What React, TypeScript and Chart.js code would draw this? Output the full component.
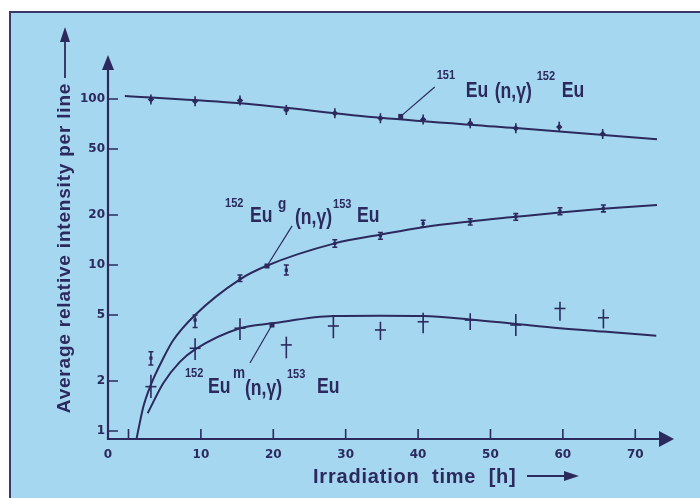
import { useEffect, useRef } from 'react';
import { Chart, registerables } from 'chart.js';

Chart.register(...registerables);

const NAVY = '#2c2a5c';
const BG = '#a6d7f1';

// axis ticks
const xTickValues = [0, 10, 20, 30, 40, 50, 60, 70];
const yTickValues = [1, 2, 5, 10, 20, 50, 100];

// measured points: 151Eu(n,γ)152Eu
const eu151Times = [3.1, 9.2, 15.4, 21.8, 28.5, 34.8, 40.7, 47.2, 53.5, 59.5, 65.5];
const eu151Values = [99.3, 96.9, 97.9, 85.9, 82.0, 76.5, 75.3, 71.4, 66.6, 67.8, 61.5];
const eu151Low = [92.6, 90.4, 91.3, 80.1, 76.5, 71.4, 70.2, 66.6, 62.1, 63.5, 57.4];
const eu151High = [106.5, 103.9, 105.0, 92.1, 87.9, 82.0, 80.7, 76.5, 71.4, 73.0, 65.9];

// measured points: 152Eu^g(n,γ)153Eu
const eu152gTimes = [3.1, 9.2, 15.4, 21.8, 28.5, 34.8, 40.7, 47.2, 53.5, 59.6, 65.6];
const eu152gValues = [2.75, 4.66, 8.3, 9.3, 13.5, 15.0, 17.8, 18.2, 19.5, 21.1, 21.9];
const eu152gLow = [2.5, 4.2, 7.95, 8.7, 12.8, 14.3, 17.0, 17.4, 18.6, 20.1, 20.9];
const eu152gHigh = [3.0, 5.0, 8.7, 10.0, 14.2, 15.7, 18.6, 19.0, 20.4, 22.1, 23.0];

// measured points: 152Eu^m(n,γ)153Eu
const eu152mTimes = [3.1, 9.2, 15.4, 21.8, 28.3, 34.8, 40.7, 47.2, 53.5, 59.6, 65.6];
const eu152mValues = [1.85, 3.15, 4.16, 3.3, 4.29, 4.06, 4.55, 4.66, 4.35, 5.47, 4.81];
const eu152mLow = [1.58, 2.68, 3.53, 2.74, 3.62, 3.53, 3.88, 4.06, 3.73, 4.62, 4.15];
const eu152mHigh = [2.18, 3.62, 4.77, 3.7, 4.88, 4.55, 5.16, 5.12, 5.07, 6.01, 5.41];

// fitted curves
const fit151Times = [-0.5, 15.4, 34.8, 53.5, 73.0];
const fit151Values = [104.2, 94.2, 77.0, 66.8, 57.2];
const fit152gTimes = [1.13, 2.05, 3.07, 4.8, 6.2, 9.2, 15.4, 19.1, 28.5, 34.7, 40.7, 47.2, 53.5, 59.6, 65.5, 73.0];
const fit152gValues = [0.907, 1.4, 1.89, 2.74, 3.53, 5.0, 8.2, 9.9, 13.5, 15.2, 16.9, 18.3, 19.5, 20.7, 21.8, 23.0];
const fit152mTimes = [2.65, 4.8, 7.1, 9.2, 15.4, 19.8, 28.3, 34.8, 40.7, 47.2, 53.6, 59.6, 65.6, 72.9];
const fit152mValues = [1.28, 1.94, 2.61, 3.1, 4.16, 4.45, 4.93, 4.95, 4.93, 4.7, 4.41, 4.16, 3.97, 3.75];

// axis range
const X_MIN = -2.83;
const X_MAX = 75.35;
const Y_MIN = 0.895;
const Y_MAX = 184;

const pts = (xs: number[], ys: number[]) => xs.map((x, i) => ({ x, y: ys[i] }));

type Piece = { text: string; dx: number; dy: number; size: number };

const labelA: Piece[] = [
  { text: '151', dx: 0, dy: -18, size: 13 },
  { text: 'Eu', dx: 29, dy: 0, size: 22 },
  { text: '(n,γ)', dx: 58, dy: 1, size: 22 },
  { text: '152', dx: 100, dy: -17, size: 13 },
  { text: 'Eu', dx: 125, dy: 0, size: 22 },
];
const labelB: Piece[] = [
  { text: '152', dx: 0, dy: -15, size: 13 },
  { text: 'Eu', dx: 25, dy: 0, size: 22 },
  { text: 'g', dx: 53, dy: -13, size: 17 },
  { text: '(n,γ)', dx: 70, dy: 2, size: 22 },
  { text: '153', dx: 108, dy: -14, size: 13 },
  { text: 'Eu', dx: 132, dy: 0, size: 22 },
];
const labelC: Piece[] = [
  { text: '152', dx: 0, dy: -16, size: 13 },
  { text: 'Eu', dx: 23, dy: 0, size: 22 },
  { text: 'm', dx: 48, dy: -15, size: 17 },
  { text: '(n,γ)', dx: 60, dy: 2, size: 22 },
  { text: '153', dx: 102, dy: -15, size: 13 },
  { text: 'Eu', dx: 132, dy: 0, size: 22 },
];

// annotations in data coordinates: text anchor, leader start, leader end
const annotations = [
  { pieces: labelA, anchor: [42.57, 103.2], from: [42.3, 118], to: [37.6, 78.5] },
  { pieces: labelB, anchor: [13.33, 18.16], from: [22.6, 17.2], to: [19.13, 9.86] },
  { pieces: labelC, anchor: [7.8, 1.694], from: [16.78, 2.57], to: [19.82, 4.35] },
];

const FONT = '"Liberation Sans", Arial, sans-serif';

function drawPieces(ctx: CanvasRenderingContext2D, x0: number, y0: number, pieces: Piece[]) {
  for (const p of pieces) {
    ctx.save();
    ctx.translate(x0 + p.dx, y0 + p.dy);
    ctx.scale(p.size >= 15 ? 0.8 : 0.85, 1);
    ctx.font = `bold ${p.size}px ${FONT}`;
    ctx.fillStyle = NAVY;
    ctx.textAlign = 'left';
    ctx.textBaseline = 'alphabetic';
    ctx.fillText(p.text, 0, 0);
    ctx.restore();
  }
}

const decorPlugin = {
  id: 'decor',
  beforeDraw(chart: any) {
    const ctx: CanvasRenderingContext2D = chart.ctx;
    const W = chart.width;
    const H = chart.height;
    ctx.save();
    ctx.fillStyle = '#ffffff';
    ctx.fillRect(0, 0, W, H);
    ctx.fillStyle = BG;
    ctx.fillRect(10, 12, W - 10, H - 12);
    ctx.strokeStyle = '#3a3868';
    ctx.lineWidth = 2;
    ctx.beginPath();
    ctx.moveTo(10, H);
    ctx.lineTo(10, 12);
    ctx.lineTo(W, 12);
    ctx.stroke();
    ctx.restore();
  },
  afterDatasetsDraw(chart: any) {
    const ctx: CanvasRenderingContext2D = chart.ctx;
    const ys = chart.scales.y;
    ctx.save();
    ctx.strokeStyle = NAVY;
    ctx.lineWidth = 1.6;
    chart.data.datasets.forEach((ds: any, i: number) => {
      if (!ds.errLo) return;
      const meta = chart.getDatasetMeta(i);
      meta.data.forEach((pt: any, j: number) => {
        const x = pt.x;
        const yLo = ys.getPixelForValue(ds.errLo[j]);
        const yHi = ys.getPixelForValue(ds.errHi[j]);
        ctx.beginPath();
        ctx.moveTo(x, yLo);
        ctx.lineTo(x, yHi);
        if (ds.caps) {
          ctx.moveTo(x - ds.caps, yLo);
          ctx.lineTo(x + ds.caps, yLo);
          ctx.moveTo(x - ds.caps, yHi);
          ctx.lineTo(x + ds.caps, yHi);
        }
        ctx.stroke();
      });
    });
    ctx.restore();
  },
  afterDraw(chart: any) {
    const ctx: CanvasRenderingContext2D = chart.ctx;
    const xs = chart.scales.x;
    const ys = chart.scales.y;
    const { left, right, top, bottom } = chart.chartArea;
    const px = (v: number) => xs.getPixelForValue(v);
    const py = (v: number) => ys.getPixelForValue(v);
    ctx.save();
    ctx.strokeStyle = NAVY;
    ctx.fillStyle = NAVY;
    // axes
    ctx.lineWidth = 2.2;
    ctx.beginPath();
    ctx.moveTo(left, top + 10);
    ctx.lineTo(left, bottom);
    ctx.lineTo(right - 10, bottom);
    ctx.stroke();
    // arrowheads
    ctx.beginPath();
    ctx.moveTo(left, top);
    ctx.lineTo(left - 6, top + 15);
    ctx.lineTo(left + 6, top + 15);
    ctx.closePath();
    ctx.fill();
    ctx.beginPath();
    ctx.moveTo(right, bottom);
    ctx.lineTo(right - 15, bottom - 8);
    ctx.lineTo(right - 15, bottom + 8);
    ctx.closePath();
    ctx.fill();
    // inner ticks
    ctx.lineWidth = 1.6;
    ctx.beginPath();
    for (const v of xTickValues) {
      const x = px(v);
      ctx.moveTo(x, bottom);
      ctx.lineTo(x, bottom - 10);
    }
    for (const v of yTickValues) {
      const y = py(v);
      ctx.moveTo(left, y);
      ctx.lineTo(left + 10, y);
    }
    ctx.stroke();

    // annotations
    for (const a of annotations) {
      ctx.lineWidth = 1.2;
      ctx.beginPath();
      ctx.moveTo(px(a.from[0]), py(a.from[1]));
      ctx.lineTo(px(a.to[0]), py(a.to[1]));
      ctx.stroke();
      ctx.fillRect(px(a.to[0]) - 2.5, py(a.to[1]) - 2.5, 5, 5);
      drawPieces(ctx, px(a.anchor[0]), py(a.anchor[1]), a.pieces);
    }

    // y title
    const tcx = 65;
    const tcy = 248;
    ctx.save();
    ctx.translate(tcx, tcy);
    ctx.rotate(-Math.PI / 2);
    ctx.font = `bold 19px ${FONT}`;
    (ctx as any).letterSpacing = '0.8px';
    ctx.textAlign = 'center';
    ctx.textBaseline = 'middle';
    ctx.fillText('Average relative intensity per line', 0, 0);
    ctx.restore();
    ctx.lineWidth = 1.8;
    ctx.beginPath();
    ctx.moveTo(tcx, 78);
    ctx.lineTo(tcx, 40);
    ctx.stroke();
    ctx.beginPath();
    ctx.moveTo(tcx, 27);
    ctx.lineTo(tcx - 5, 42);
    ctx.lineTo(tcx + 5, 42);
    ctx.closePath();
    ctx.fill();

    // x title
    ctx.save();
    ctx.font = `bold 20px ${FONT}`;
    (ctx as any).letterSpacing = '0.8px';
    (ctx as any).wordSpacing = '6px';
    ctx.textAlign = 'left';
    ctx.textBaseline = 'alphabetic';
    ctx.fillText('Irradiation time [h]', 313, 483);
    ctx.restore();
    ctx.beginPath();
    ctx.moveTo(527, 476);
    ctx.lineTo(566, 476);
    ctx.stroke();
    ctx.beginPath();
    ctx.moveTo(579, 476);
    ctx.lineTo(564, 471);
    ctx.lineTo(564, 481);
    ctx.closePath();
    ctx.fill();
    ctx.restore();
  },
};

export default function App() {
  const ref = useRef<HTMLCanvasElement>(null);
  useEffect(() => {
    const canvas = ref.current;
    if (!canvas) return;
    const tickFont = { family: '"DejaVu Sans", sans-serif', weight: 'bold' as const, size: 12 };
    const lineDs = (xs: number[], ys: number[]) => ({
      data: pts(xs, ys),
      showLine: true,
      borderColor: NAVY,
      borderWidth: 2,
      pointRadius: 0,
      cubicInterpolationMode: 'monotone' as const,
      fill: false,
    });
    const chart = new Chart(canvas, {
      type: 'scatter',
      data: {
        datasets: [
          { ...lineDs(fit151Times, fit151Values), label: 'fit 151Eu' },
          { ...lineDs(fit152gTimes, fit152gValues), label: 'fit 152Eu g' },
          { ...lineDs(fit152mTimes, fit152mValues), label: 'fit 152Eu m' },
          {
            label: '151Eu(n,γ)152Eu',
            data: pts(eu151Times, eu151Values),
            pointStyle: 'rectRot',
            pointRadius: 3.2,
            backgroundColor: NAVY,
            borderWidth: 0,
            errLo: eu151Low,
            errHi: eu151High,
            caps: 0,
          } as any,
          {
            label: '152Eu^g(n,γ)153Eu',
            data: pts(eu152gTimes, eu152gValues),
            pointStyle: 'rect',
            pointRadius: 2.3,
            backgroundColor: NAVY,
            borderWidth: 0,
            errLo: eu152gLow,
            errHi: eu152gHigh,
            caps: 2.5,
          } as any,
          {
            label: '152Eu^m(n,γ)153Eu',
            data: pts(eu152mTimes, eu152mValues),
            pointStyle: 'line',
            pointRadius: 5.5,
            borderColor: NAVY,
            backgroundColor: NAVY,
            borderWidth: 1.6,
            errLo: eu152mLow,
            errHi: eu152mHigh,
            caps: 0,
          } as any,
        ],
      },
      options: {
        responsive: false,
        animation: false,
        devicePixelRatio: 1,
        layout: { padding: { left: 0, top: 55, right: 26, bottom: 0 } },
        plugins: { legend: { display: false }, tooltip: { enabled: false }, title: { display: false } },
        scales: {
          x: {
            type: 'linear',
            min: X_MIN,
            max: X_MAX,
            grid: { display: false, drawTicks: false },
            border: { display: false },
            afterBuildTicks: (axis: any) => {
              axis.ticks = [X_MIN, ...xTickValues].map((value) => ({ value }));
            },
            afterFit: (axis: any) => {
              axis.height = 59;
            },
            ticks: {
              autoSkip: false,
              maxRotation: 0,
              padding: 9,
              color: NAVY,
              font: tickFont,
              callback: (value: any) => (value === X_MIN ? '0' : value === 0 ? '' : String(value)),
            },
          },
          y: {
            type: 'logarithmic',
            min: Y_MIN,
            max: Y_MAX,
            grid: { display: false, drawTicks: false },
            border: { display: false },
            afterBuildTicks: (axis: any) => {
              axis.ticks = yTickValues.map((value) => ({ value }));
            },
            afterFit: (axis: any) => {
              axis.width = 108;
            },
            ticks: {
              autoSkip: false,
              padding: 3,
              color: NAVY,
              font: tickFont,
              callback: (value: any) => String(value),
            },
          },
        },
      } as any,
      plugins: [decorPlugin],
    });
    return () => chart.destroy();
  }, []);
  return (
    <div style={{ position: 'fixed', left: 0, top: 0, width: 700, height: 498, background: '#fff' }}>
      <canvas ref={ref} width={700} height={498} style={{ display: 'block', width: 700, height: 498 }} />
    </div>
  );
}
